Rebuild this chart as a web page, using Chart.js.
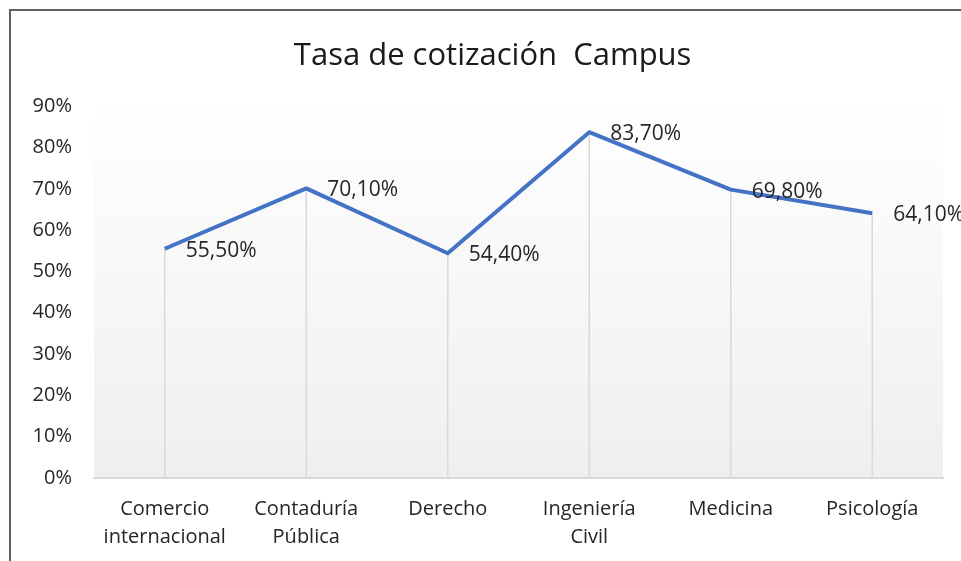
<!DOCTYPE html>
<html lang="es">
<head>
<meta charset="utf-8">
<title>Tasa de cotización Campus</title>
<script src="https://cdn.jsdelivr.net/npm/chart.js@4/dist/chart.umd.min.js"></script>
<style>
    html, body { margin: 0; padding: 0; background: #ffffff; }
    #wrap { position: relative; width: 961px; height: 561px; }
</style>
</head>
<body>
<div id="wrap"><canvas id="grafico"></canvas></div>
<script>
// Datos
const carreras = [
    ["Comercio", "internacional"],
    ["Contaduría", "Pública"],
    "Derecho",
    ["Ingeniería", "Civil"],
    "Medicina",
    "Psicología",
];
const tasaCotizacion = [55.5, 70.1, 54.4, 83.7, 69.8, 64.1];
const ticksY = [0, 10, 20, 30, 40, 50, 60, 70, 80, 90];

const FUENTE = "'Open Sans', 'Noto Sans', sans-serif";
const GRIS_TEXTO = "#262626";
const GRIS_LINEA = "#d9d9d9";

// Fondo degradado del área, marco exterior y líneas de caída
const decorado = {
    id: "decorado",
    beforeDraw(chart) {
        const { ctx, chartArea: a } = chart;
        ctx.save();
        const g = ctx.createLinearGradient(0, a.top - 10, 0, a.bottom);
        g.addColorStop(0, "#ffffff");
        g.addColorStop(1, "#efefef");
        ctx.fillStyle = g;
        ctx.fillRect(a.left, a.top - 10, a.right - a.left, a.bottom - a.top + 10);

        ctx.strokeStyle = "#606060";
        ctx.lineWidth = 2;
        ctx.strokeRect(10, 10, chart.width + 20, chart.height + 20);
        ctx.restore();
    },
    beforeDatasetsDraw(chart) {
        const { ctx, scales: { x, y } } = chart;
        ctx.save();
        ctx.strokeStyle = GRIS_LINEA;
        ctx.lineWidth = 1.5;
        tasaCotizacion.forEach((v, i) => {
            const px = x.getPixelForValue(i);
            ctx.beginPath();
            ctx.moveTo(px, y.getPixelForValue(v));
            ctx.lineTo(px, y.getPixelForValue(0));
            ctx.stroke();
        });
        ctx.restore();
    },
    afterDatasetsDraw(chart) {
        const { ctx } = chart;
        const pts = chart.getDatasetMeta(0).data;
        ctx.save();
        ctx.font = `21px ${FUENTE}`;
        ctx.fillStyle = GRIS_TEXTO;
        ctx.textAlign = "left";
        ctx.textBaseline = "middle";
        pts.forEach((p, i) => {
            const txt = tasaCotizacion[i].toFixed(2).replace(".", ",") + "%";
            ctx.fillText(txt, p.x + 21, p.y + 2);
        });
        ctx.restore();
    },
};

new Chart(document.getElementById("grafico"), {
    type: "line",
    data: {
        labels: carreras,
        datasets: [{
            data: tasaCotizacion,
            borderColor: "#4472c4",
            borderWidth: 4,
            borderJoinStyle: "round",
            tension: 0,
            pointRadius: 0,
            fill: false,
        }],
    },
    options: {
        responsive: true,
        maintainAspectRatio: false,
        animation: false,
        layout: { padding: { top: 10, left: 10, right: 18, bottom: 0 } },
        plugins: {
            legend: { display: false },
            tooltip: { enabled: false },
            title: {
                display: true,
                // espacios al inicio para correr el título un poco a la derecha
                text: "    Tasa de cotización  Campus",
                color: "#1a1a1a",
                font: { family: FUENTE, size: 31, weight: "normal", lineHeight: 1.2 },
                padding: { top: 28, bottom: 31 },
            },
        },
        scales: {
            x: {
                offset: true,
                grid: { display: false, drawTicks: false },
                border: { display: true, color: GRIS_LINEA, width: 2 },
                ticks: {
                    color: GRIS_TEXTO,
                    font: { family: FUENTE, size: 20, lineHeight: 1.4 },
                    padding: 17,
                    maxRotation: 0,
                    autoSkip: false,
                },
                afterFit: (s) => { s.height = 83; },
            },
            y: {
                min: 0,
                max: 90,
                afterBuildTicks: (s) => { s.ticks = ticksY.map((v) => ({ value: v })); },
                grid: { display: false, drawTicks: false },
                border: { display: false },
                ticks: {
                    color: GRIS_TEXTO,
                    font: { family: FUENTE, size: 20 },
                    padding: 22,
                    callback: (v) => v + "%",
                },
                afterFit: (s) => { s.width = 84; },
            },
        },
    },
    plugins: [decorado],
});
</script>
</body>
</html>
